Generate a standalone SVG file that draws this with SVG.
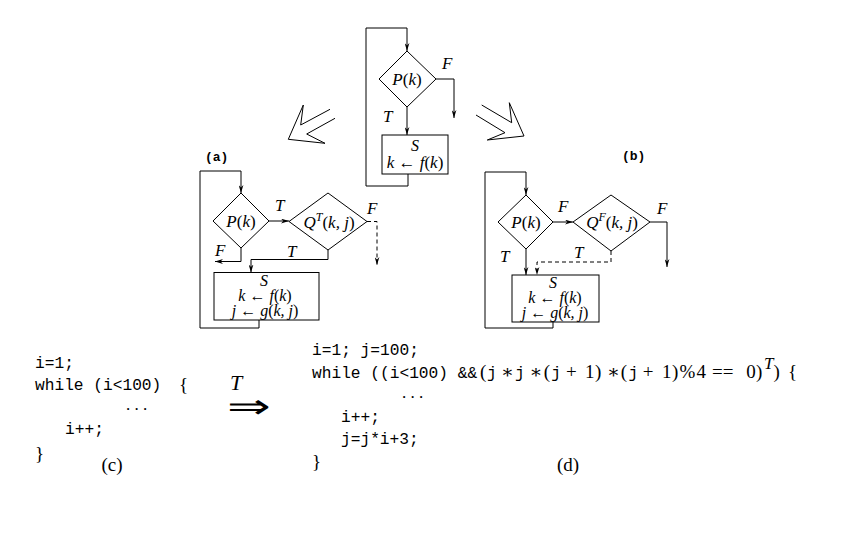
<svg xmlns="http://www.w3.org/2000/svg" width="864" height="533" viewBox="0 0 864 533">
<defs>
<marker id="ah" viewBox="0 0 10 6" refX="10" refY="3" markerWidth="8" markerHeight="5" markerUnits="userSpaceOnUse" orient="auto">
<path d="M0,0 L10,3 L0,6 L3,3 Z" fill="#000"/>
</marker>
<style>
.ln{fill:none;stroke:#000;stroke-width:1}
.ds{fill:none;stroke:#000;stroke-width:1;stroke-dasharray:4 3}
.sh{fill:#fff;stroke:#000;stroke-width:1}
.m{font-family:"Liberation Serif","DejaVu Serif",serif;font-size:17px}
.bx{font-size:16px}
.i{font-style:italic}
.c{text-anchor:middle}
.tt{font-family:"Liberation Mono","DejaVu Sans Mono",monospace;font-size:16.2px}
.lb{font-family:"Liberation Mono","DejaVu Sans Mono",monospace;font-size:13px;font-weight:bold}
.big{font-family:"Liberation Serif","DejaVu Serif",serif;font-size:19px}
</style>
</defs>
<rect width="864" height="533" fill="#fff"/>

<g id="connectors">
<path class="ln" d="M408,174 V186 H366 V28 H407 V51" marker-end="url(#ah)"/>
<path class="ln" d="M436,79 H454 V118" marker-end="url(#ah)"/>
<path class="ln" d="M407,107 V135" marker-end="url(#ah)"/>
<path class="ln" d="M259,320 V328 H200 V171 H241 V193" marker-end="url(#ah)"/>
<path class="ln" d="M269,221 H289" marker-end="url(#ah)"/>
<path class="ds" d="M367,221.5 H377 V265" marker-end="url(#ah)"/>
<path class="ln" d="M241,248 V261.5 H215" marker-end="url(#ah)"/>
<path class="ln" d="M328,250 V259.5 H251 V272.5" marker-end="url(#ah)"/>
<path class="ln" d="M553,322 V328 H485 V172 H526 V195" marker-end="url(#ah)"/>
<path class="ln" d="M553,222 H573" marker-end="url(#ah)"/>
<path class="ln" d="M650,222 H667 V267" marker-end="url(#ah)"/>
<path class="ln" d="M526,249 V275" marker-end="url(#ah)"/>
<path class="ds" d="M611,251 V262 H537 V275" marker-end="url(#ah)"/>
</g>

<g id="transform-arrows">
<path class="ln" d="M330,109.3 L300.7,125 L303.3,105 L288.3,139.3 L325,143.3 L306.7,134 L335,118.3"/>
<path class="ln" d="M481.7,105 L511.7,122.7 L509.3,102.7 L524,136 L487.3,140 L505,132.7 L476,115"/>
</g>

<g id="top">
<polygon class="sh" points="407,51 436,79 407,107 379,79"/>
<text class="m c" x="407" y="85"><tspan class="i">P</tspan>(<tspan class="i">k</tspan>)</text>
<text class="m i" x="442" y="69">F</text>
<text class="m i" x="383" y="122">T</text>
<rect class="sh" x="382" y="135" width="66" height="39"/>
<text class="m bx i c" x="415" y="151">S</text>
<text class="m c" x="415" y="168"><tspan class="i">k</tspan> ← <tspan class="i">f</tspan>(<tspan class="i">k</tspan>)</text>
</g>

<g id="flow-a">
<text class="lb" x="205" y="161">(a)</text>
<polygon class="sh" points="241,193 269,221 241,248 213,221"/>
<text class="m c" x="241" y="227"><tspan class="i">P</tspan>(<tspan class="i">k</tspan>)</text>
<text class="m i" x="275" y="211">T</text>
<polygon class="sh" points="328,193 367,221.5 328,250 289,221.5"/>
<text class="m c" x="329" y="228"><tspan class="i">Q</tspan><tspan class="i" font-size="12" dy="-7">T</tspan><tspan dy="7">(</tspan><tspan class="i">k, j</tspan>)</text>
<text class="m i" x="367" y="214">F</text>
<text class="m i" x="215" y="256">F</text>
<text class="m i" x="287" y="257">T</text>
<rect class="sh" x="214" y="272.5" width="105" height="47.5"/>
<text class="m bx i c" x="264" y="286">S</text>
<text class="m bx c" x="265" y="301"><tspan class="i">k</tspan> ← <tspan class="i">f</tspan>(<tspan class="i">k</tspan>)</text>
<text class="m bx c" x="265" y="316"><tspan class="i">j</tspan> ← <tspan class="i">g</tspan>(<tspan class="i">k, j</tspan>)</text>
</g>

<g id="flow-b">
<text class="lb" x="622" y="160">(b)</text>
<polygon class="sh" points="526,195 553,222 526,249 498,222"/>
<text class="m c" x="526" y="228"><tspan class="i">P</tspan>(<tspan class="i">k</tspan>)</text>
<text class="m i" x="558" y="212">F</text>
<polygon class="sh" points="611,195 650,222 611,251 573,222"/>
<text class="m c" x="612" y="228"><tspan class="i">Q</tspan><tspan class="i" font-size="12" dy="-7">F</tspan><tspan dy="7">(</tspan><tspan class="i">k, j</tspan>)</text>
<text class="m i" x="657" y="214">F</text>
<text class="m i" x="500" y="262">T</text>
<text class="m i" x="574" y="258">T</text>
<rect class="sh" x="512" y="275" width="87" height="47"/>
<text class="m bx i c" x="553" y="288">S</text>
<text class="m bx c" x="555" y="303"><tspan class="i">k</tspan> ← <tspan class="i">f</tspan>(<tspan class="i">k</tspan>)</text>
<text class="m bx c" x="555" y="318"><tspan class="i">j</tspan> ← <tspan class="i">g</tspan>(<tspan class="i">k, j</tspan>)</text>
</g>

<g id="code-c">
<text class="tt" x="35" y="368">i=1;</text>
<text class="tt" x="35" y="390">while (i&lt;100)</text>
<text class="big" x="179" y="391">{</text>
<text class="m" x="126" y="410">. . .</text>
<text class="tt" x="65" y="434">i++;</text>
<text class="big" x="35" y="460">}</text>
<text class="big c" x="112" y="471">(c)</text>
</g>

<g id="transform">
<text font-family="'Liberation Serif',serif" font-style="italic" font-size="22" x="230" y="390">T</text>
<text font-family="'DejaVu Sans',sans-serif" font-weight="200" font-size="34" x="227" y="418" textLength="43" lengthAdjust="spacingAndGlyphs">⇒</text>
</g>

<g id="code-d">
<text class="tt" x="312" y="355">i=1; j=100;</text>
<text class="tt" x="312" y="378">while ((i&lt;100) &amp;&amp;</text>
<text class="big" y="378"><tspan x="480">(</tspan><tspan x="501">∗</tspan><tspan x="529.4">∗</tspan><tspan x="543.7">(</tspan><tspan x="566">+</tspan><tspan x="585">1</tspan><tspan x="594.9">)</tspan><tspan x="607">∗</tspan><tspan x="620.8">(</tspan><tspan x="642.8">+</tspan><tspan x="662">1</tspan><tspan x="672">)</tspan><tspan x="679.6">%</tspan><tspan x="696.4">4</tspan><tspan x="712">==</tspan><tspan x="746.3">0</tspan><tspan x="756">)</tspan><tspan x="773.5">)</tspan><tspan x="788">{</tspan></text>
<text class="tt" y="378"><tspan x="487">j</tspan><tspan x="515">j</tspan><tspan x="551.2">j</tspan><tspan x="628.4">j</tspan></text>
<text class="m i" font-size="12" x="764" y="369">T</text>
<text class="m" x="402" y="398">. . .</text>
<text class="tt" x="341" y="422">i++;</text>
<text class="tt" x="341" y="444">j=j*i+3;</text>
<text class="big" x="312" y="468">}</text>
<text class="big c" x="568" y="471">(d)</text>
</g>
</svg>
